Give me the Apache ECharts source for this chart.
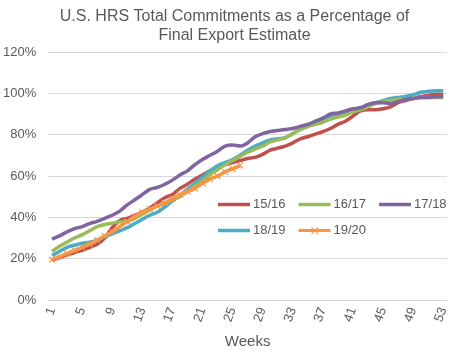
<!DOCTYPE html>
<html>
<head>
<meta charset="utf-8">
<script src="https://cdn.jsdelivr.net/npm/echarts@6/dist/echarts.min.js"></script>
<style>
html,body{margin:0;padding:0;background:#fff;}
#chart{width:469px;height:358px;}
</style>
</head>
<body>
<div id="chart"></div>
<script>
const weeks = [];
for (let i = 1; i <= 53; i++) weeks.push(String(i));

const yTicks = [0, 20, 40, 60, 80, 100, 120];

const s1516 = [19.3,20.5,21.8,23,24,25.5,27,30,35,38.5,39.5,41,42.5,44.5,47,49.5,51,54,56,58.5,60.5,62.5,64.5,65.5,66.5,67.5,68.5,69,70.5,72.5,73.5,74.5,76,78,79,80.3,81.5,83,85,86.5,89,91.5,92,92,92.5,93.5,95.5,96.5,97.5,98.5,99,99.5,99.5];
const s1617 = [23.5,26,28,30,31.5,33.5,35.5,36.5,37.2,37.8,38,39.5,41.5,43.5,45.5,47,48.5,50,52.5,55,57.5,60.5,63,65.5,67.5,69.5,71.5,73,74.5,76.5,77.5,78.5,80.5,82.5,84,85,86,87.5,88.5,89.5,91,92,93.5,95,96,96.5,97,97,97.5,98,98,98,98];
const s1718 = [29.5,31,33,34.5,35.5,37,38,39.5,41,43,46,48.5,51,53.5,54.5,56,58,60.5,62.5,65.5,68,70,72,74.5,75,74.5,76,79,80.5,81.5,82,82.5,83,84,85,86.5,88,90,90.5,91.5,92.5,93,94.5,95.5,95.5,95,96,97,97.5,98,98,98.3,98.5];
const s1819 = [21.5,23.5,25.5,26.5,27.5,28,29,30.5,32,33.5,35,37,39,41,42.5,45,48,50.5,53.5,56.5,59.5,62.5,65,66.5,68,70,72.5,74.5,76,77.5,78,78.5,80.5,82.5,84,85.5,87.5,89,90,91,92,93,94.5,95.5,96.5,97.5,98,98.5,99.3,100.5,101,101.3,101.3];
const s1920 = [19.5,21,22.5,24,25.5,27,29,31,33,35.5,38,40.5,42.5,44,45.5,47,49,51,52.5,54,56.5,58.5,60,62,63.5,65];

const names = ['15/16','16/17','17/18','18/19','19/20'];
const colors = {'15/16':'#C0504D','16/17':'#9BBB59','17/18':'#8064A2','18/19':'#4BACC6','19/20':'#F79646'};

const corners = 'M0,0L0.05,0L0,0.05Z M32,8L31.95,8L32,7.95Z ';
const iconLine = 'path://' + corners + 'M0,2.2L32,2.2L32,5.8L0,5.8Z';
const iconLineX = 'path://' + corners + 'M0,2.6L32,2.6L32,5.4L0,5.4Z M12.5,1.2L13.3,0.4L20.1,7.2L19.3,8Z M19.3,0.4L20.1,1.2L13.3,8L12.5,7.2Z';

function lineSeries(name, data, z) {
  return {
    name: name, type: 'line', data: data, z: z,
    smooth: 0.3, symbol: 'none', showSymbol: false,
    lineStyle: {color: colors[name], width: 3.5},
    itemStyle: {color: colors[name]},
    emphasis: {disabled: true}
  };
}

const xMark = 'path://M0,0L10,10M10,0L0,10';

const chart = echarts.init(document.getElementById('chart'), null, {renderer: 'canvas'});
chart.setOption({
  animation: false,
  backgroundColor: '#ffffff',
  textStyle: {fontFamily: 'Liberation Sans, Arial, sans-serif'},
  title: {
    text: 'U.S. HRS Total Commitments as a Percentage of\nFinal Export Estimate',
    left: 'center', top: 2,
    textStyle: {fontSize: 16, fontWeight: 'normal', color: '#595959', lineHeight: 19, fontFamily: 'Liberation Sans, Arial, sans-serif'}
  },
  grid: {left: 47, right: 22, top: 52, bottom: 58, containLabel: false},
  legend: {
    data: names.map(n => ({name: n, icon: n === '19/20' ? iconLineX : iconLine, itemStyle: {color: colors[n], borderWidth: 0}})),
    left: 213, top: 193, width: 240,
    itemWidth: 32, itemHeight: 8, itemGap: 13,
    textStyle: {fontSize: 13, color: '#595959', lineHeight: 12, padding: [0,0,0,-2]},
    selectedMode: false
  },
  xAxis: {
    type: 'category', data: weeks, boundaryGap: true,
    name: 'Weeks', nameLocation: 'middle', nameGap: 34,
    nameTextStyle: {fontSize: 15, color: '#595959'},
    axisLine: {show: true, lineStyle: {color: '#d9d9d9'}},
    axisTick: {show: false},
    axisLabel: {interval: 3, rotate: 70, fontSize: 13, color: '#595959', margin: 8}
  },
  yAxis: {
    type: 'value', min: yTicks[0], max: yTicks[yTicks.length-1], interval: 20,
    axisLine: {show: false}, axisTick: {show: false},
    axisLabel: {formatter: '{value}%', fontSize: 13, color: '#595959', margin: 12},
    splitLine: {lineStyle: {color: '#d9d9d9', width: 1}}
  },
  series: [
    lineSeries('15/16', s1516, 1),
    lineSeries('18/19', s1819, 2),
    lineSeries('16/17', s1617, 3),
    lineSeries('17/18', s1718, 4),
    Object.assign(lineSeries('19/20', s1920, 5), {
      symbol: xMark, showSymbol: true, showAllSymbol: true, symbolSize: 6,
      itemStyle: {color: 'none', borderColor: '#F79646', borderWidth: 1.2}
    })
  ]
});
</script>
</body>
</html>
